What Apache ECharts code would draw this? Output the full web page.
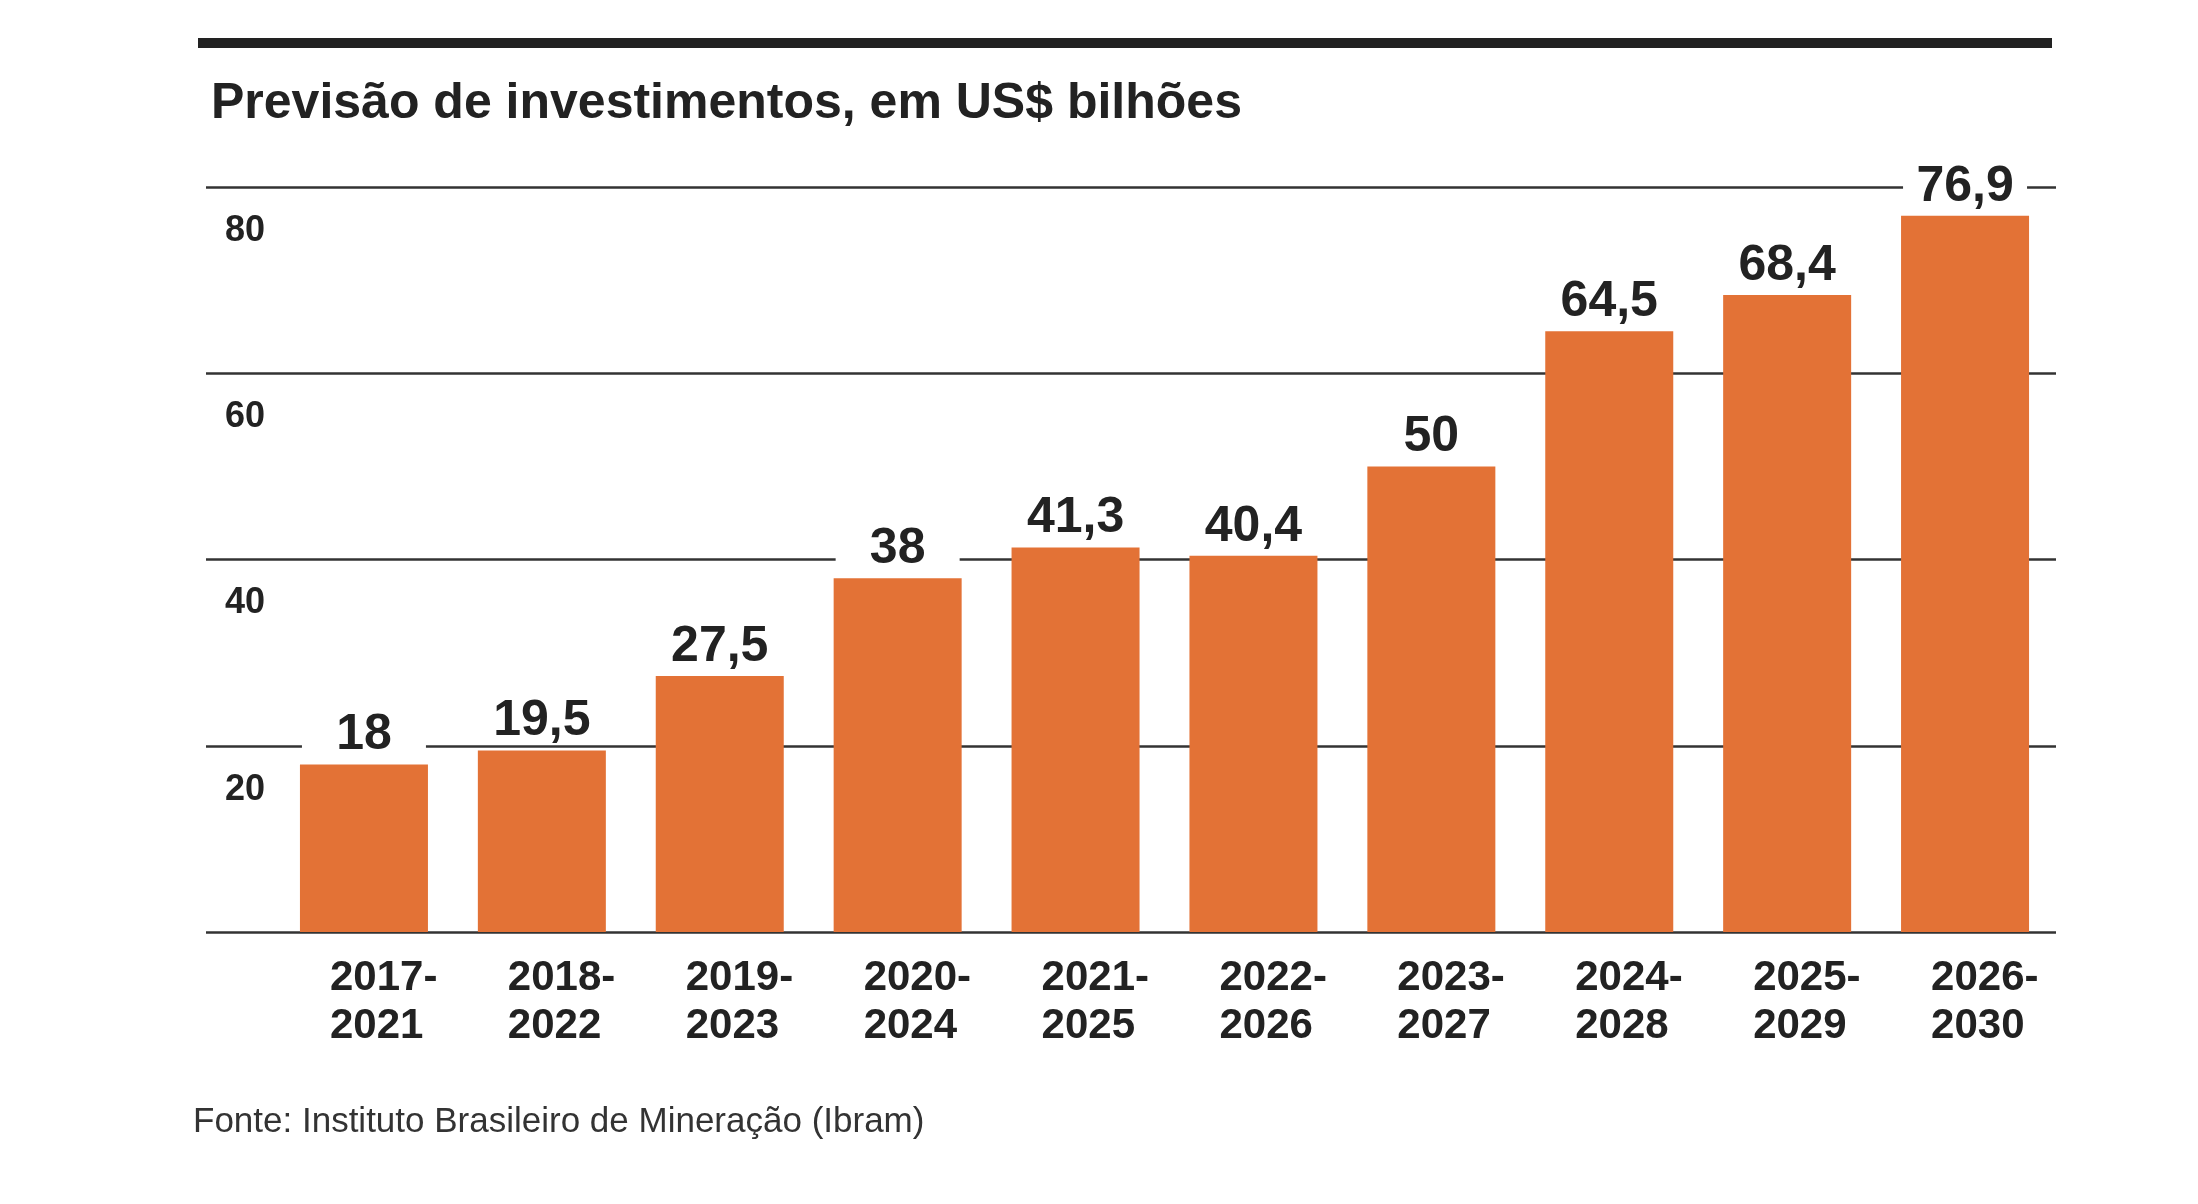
<!DOCTYPE html>
<html><head><meta charset="utf-8">
<script src="https://cdn.jsdelivr.net/npm/echarts@6/dist/echarts.min.js"></script>
<style>html,body{margin:0;padding:0;background:#fff}#c{width:2198px;height:1204px}</style>
</head><body><div id="c"></div>
<script>
const titleText = 'Previsão de investimentos, em US$ bilhões';
const sourceText = 'Fonte: Instituto Brasileiro de Mineração (Ibram)';
const categories = ['2017-\n2021','2018-\n2022','2019-\n2023','2020-\n2024','2021-\n2025','2022-\n2026','2023-\n2027','2024-\n2028','2025-\n2029','2026-\n2030'];
const values = [18, 19.5, 27.5, 38, 41.3, 40.4, 50, 64.5, 68.4, 76.9];
const yTicks = [0, 20, 40, 60, 80];

const FONT = '"Liberation Sans", Arial, sans-serif';
const fmt = v => String(v).replace('.', ',');
const chart = echarts.init(document.getElementById('c'));
const option = {
  animation: false,
  backgroundColor: '#fff',
  title: [
    {text: titleText, left: 206, top: 74,
     textStyle: {fontFamily: FONT, fontSize: 50, fontWeight: 'bold', color: '#222', lineHeight: 50}},
    {text: sourceText, left: 188, top: 1100,
     textStyle: {fontFamily: FONT, fontSize: 35, fontWeight: 'normal', color: '#333', lineHeight: 35}}
  ],
  graphic: [
    {type: 'rect', left: 198, top: 38, shape: {width: 1854, height: 10}, style: {fill: '#222'}}
  ],
  grid: [
    {left: 206, right: 142, top: 187, bottom: 272},
    {left: 275, right: 144, top: 187, bottom: 272}
  ],
  xAxis: [
    {type: 'category', gridIndex: 0, data: categories, show: false},
    {type: 'category', gridIndex: 1, data: categories,
     axisLine: {show: false}, axisTick: {show: false},
     axisLabel: {align: 'left', padding: [0, 0, 0, -34], margin: 22, fontFamily: FONT, fontSize: 42,
                 fontWeight: 'bold', color: '#222', lineHeight: 48}}
  ],
  yAxis: [
    {type: 'value', gridIndex: 0, min: yTicks[0], max: yTicks[yTicks.length - 1], interval: yTicks[1] - yTicks[0],
     axisLine: {show: false}, axisTick: {show: false},
     splitLine: {show: true, lineStyle: {color: '#333', width: 2.5}},
     axisLabel: {inside: true, margin: 19, verticalAlign: 'top', padding: [26, 0, 0, 0],
                 fontFamily: FONT, fontSize: 36, fontWeight: 'bold', color: '#222',
                 formatter: v => v === 0 ? '' : String(v)}},
    {type: 'value', gridIndex: 1, min: yTicks[0], max: yTicks[yTicks.length - 1], interval: yTicks[1] - yTicks[0], show: false}
  ],
  series: [{
    type: 'bar', xAxisIndex: 1, yAxisIndex: 1, data: values, barWidth: 128,
    itemStyle: {color: '#E37236'},
    label: {show: true, position: 'top', distance: 7, formatter: p => fmt(p.value),
            fontFamily: FONT, fontSize: 50, fontWeight: 'bold', color: '#222',
            backgroundColor: '#fff', width: 124, align: 'center', lineHeight: 44}
  }]
};
chart.setOption(option);
</script></body></html>
